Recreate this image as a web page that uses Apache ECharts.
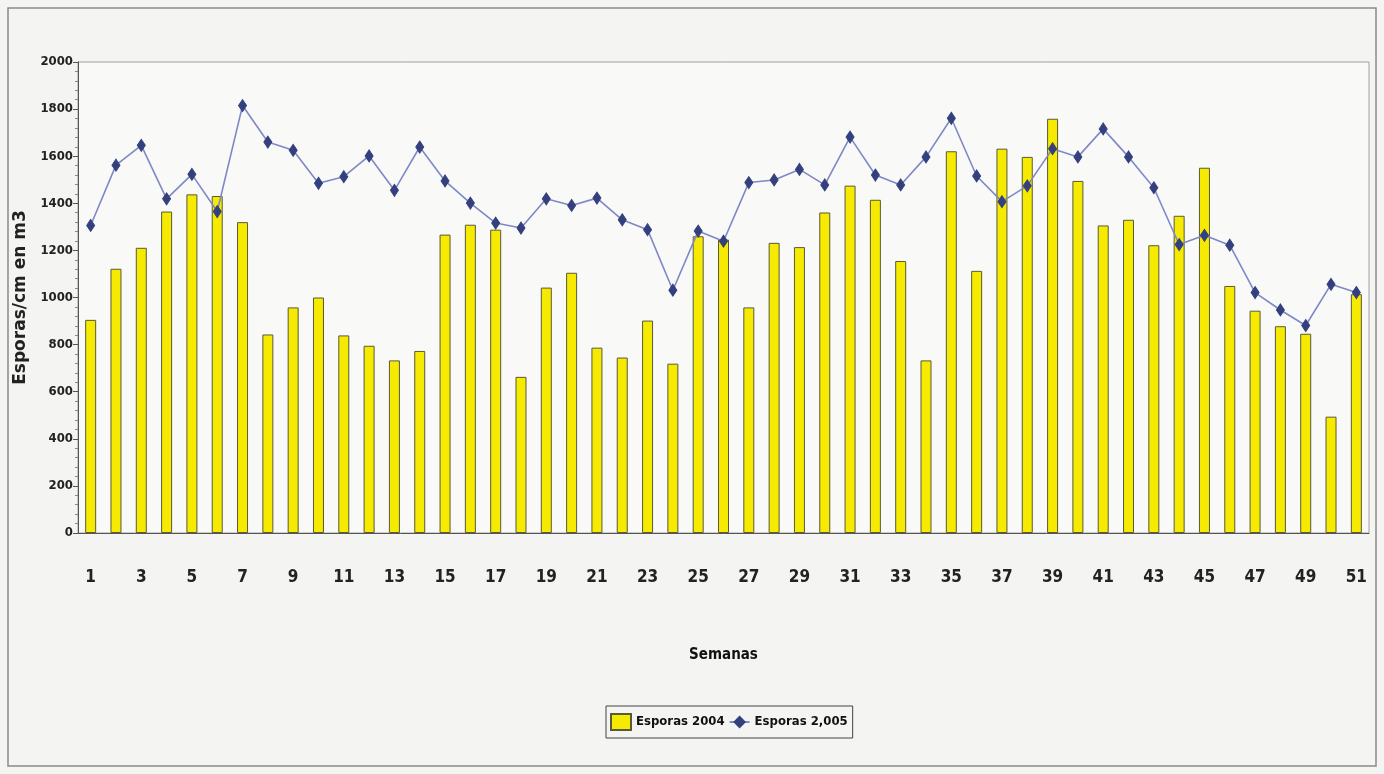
<!DOCTYPE html>
<html>
<head>
<meta charset="utf-8">
<script src="https://cdn.jsdelivr.net/npm/echarts@6/dist/echarts.min.js"></script>
<style>
html,body{margin:0;padding:0;background:#f4f4f2;}
#c{width:1384px;height:774px;}
</style>
</head>
<body>
<div id="c"></div>
<script>
const weeks = Array.from({length: 51}, (_, i) => String(i + 1));
const esporas2004 = [905,1122,1211,1365,1438,1431,1320,843,958,1000,839,795,733,773,1267,1309,1288,663,1042,1105,787,745,902,719,1260,1246,958,1232,1214,1361,1475,1415,1155,733,1621,1113,1632,1597,1759,1495,1306,1330,1222,1347,1551,1049,944,878,846,494,1014];
const esporas2005 = [1306,1562,1646,1419,1523,1365,1815,1660,1625,1485,1513,1601,1455,1639,1495,1401,1316,1295,1419,1391,1422,1330,1288,1031,1282,1239,1488,1499,1544,1478,1681,1520,1478,1597,1761,1516,1407,1474,1632,1597,1716,1597,1466,1225,1264,1222,1021,947,881,1056,1021];
const yTicks = {min: 0, max: 2000, interval: 200};

const narrow = '"Liberation Sans Narrow", "Arial Narrow", "DejaVu Sans Condensed", sans-serif';
const chart = echarts.init(document.getElementById('c'), null, {renderer: 'canvas'});
chart.setOption({
  backgroundColor: '#f4f4f2',
  animation: false,
  graphic: [{
    type: 'rect', shape: {x: 8, y: 8, width: 1368, height: 758},
    style: {fill: 'none', stroke: '#8a8a8a', lineWidth: 1.5}, z: -1
  }],
  grid: {
    left: 78, right: 15, top: 62, bottom: 241,
    containLabel: false, outerBoundsMode: 'none',
    show: true, backgroundColor: '#f9f9f7', borderColor: '#a0a0a0', borderWidth: 1
  },
  legend: {
    left: 606, top: 706,
    data: [{name: 'Esporas 2004', icon: 'rect'}, {name: 'Esporas 2,005'}],
    borderColor: '#444', borderWidth: 1, padding: [7, 5, 7, 4],
    itemGap: 4, itemWidth: 20, itemHeight: 16,
    textStyle: {fontFamily: narrow, fontWeight: 'bold', fontSize: 13, color: '#111'}
  },
  xAxis: {
    type: 'category', data: weeks,
    name: 'Semanas', nameLocation: 'middle', nameGap: 115,
    nameTextStyle: {fontFamily: narrow, fontWeight: 'bold', fontSize: 15, color: '#111'},
    axisLine: {lineStyle: {color: '#555', width: 1}},
    axisTick: {interval: 1, length: 6, lineStyle: {color: '#555'}},
    axisLabel: {interval: 1, margin: 36, fontFamily: narrow, fontWeight: 'bold', fontSize: 17, color: '#222'}
  },
  yAxis: {
    type: 'value', min: yTicks.min, max: yTicks.max, interval: yTicks.interval,
    name: 'Esporas/cm en m3', nameLocation: 'middle', nameGap: 28, nameRotate: 90,
    nameTextStyle: {fontFamily: '"DejaVu Sans", sans-serif', fontWeight: 'bold', fontSize: 17, color: '#222'},
    axisLine: {show: true, lineStyle: {color: '#555', width: 1}},
    axisTick: {show: true, length: 5, lineStyle: {color: '#555'}},
    minorTick: {show: true, splitNumber: 5, length: 3, lineStyle: {color: '#888'}},
    splitLine: {show: false},
    axisLabel: {margin: 5, formatter: v => String(v), fontFamily: narrow, fontWeight: 'bold', fontSize: 13, color: '#222'}
  },
  series: [{
    name: 'Esporas 2004', type: 'bar', data: esporas2004,
    barWidth: 11,
    itemStyle: {color: '#f5ea00', borderColor: '#5a5a3a', borderWidth: 1}
  }, {
    name: 'Esporas 2,005', type: 'line', data: esporas2005,
    symbol: 'diamond', symbolSize: [8, 12], showSymbol: true,
    lineStyle: {color: '#7e88c6', width: 1.6},
    itemStyle: {color: '#34407e', borderColor: '#34407e'},
    z: 3
  }]
});
</script>
</body>
</html>
